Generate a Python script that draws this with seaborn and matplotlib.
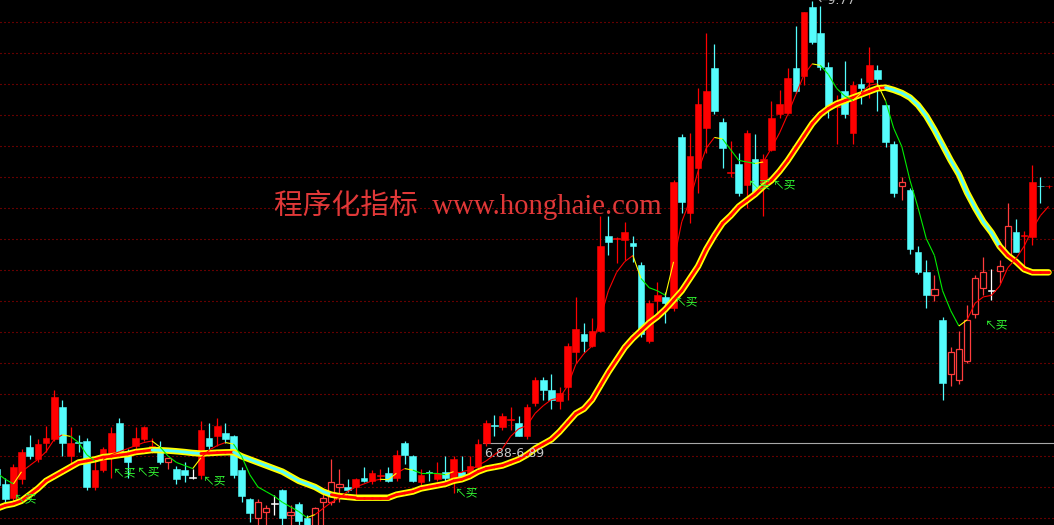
"""
K线 + 均线 + 买点信号 (通达信风格)
"""

import numpy as np
import matplotlib
matplotlib.use("Agg")
import matplotlib.pyplot as plt
from matplotlib.collections import LineCollection
import seaborn as sns

# ── data ────────────────────────────────────────────────────────────────────
IDX = np.arange(-1, 129)

OPEN = [6.72, 6.62, 6.53, 6.65, 6.86, 6.78, 6.89, 6.91, 7.12, 6.80,
        6.89, 6.90, 6.60, 6.71, 6.82, 7.02, 6.82, 6.87, 6.91, 6.86,
        6.83, 6.76, 6.72, 6.71, 6.66, 6.68, 6.92, 6.93, 6.95, 6.93,
        6.71, 6.52, 6.40, 6.44, 6.49, 6.58, 6.42, 6.49, 6.40, 6.33,
        6.50, 6.50, 6.60, 6.60, 6.60, 6.66, 6.64, 6.67, 6.69, 6.66,
        6.89, 6.80, 6.63, 6.69, 6.65, 6.70, 6.66, 6.70, 6.69, 6.73,
        6.89, 7.00, 6.99, 7.04, 7.02, 6.93, 7.15, 7.30, 7.23, 7.16,
        7.25, 7.48, 7.60, 7.52, 7.62, 8.24, 8.22, 8.21, 8.19, 8.05,
        7.55, 7.81, 7.84, 7.77, 8.88, 8.39, 8.68, 8.94, 9.33, 8.98,
        8.65, 8.71, 8.57, 8.74, 8.58, 8.80, 9.03, 9.04, 9.33, 9.28,
        9.73, 9.56, 9.34, 9.08, 9.18, 8.91, 9.23, 9.24, 9.32, 9.09,
        8.84, 8.56, 8.54, 8.13, 8.00, 7.85, 7.69, 7.34, 7.30, 7.42,
        7.73, 7.90, 7.88, 8.01, 8.11, 8.26, 8.24, 8.23, 8.56, 8.56]

HIGH = [6.74, 6.66, 6.75, 6.85, 6.94, 6.91, 7.00, 7.23, 7.17, 6.99,
        6.94, 6.92, 6.78, 6.86, 6.99, 7.05, 6.85, 6.99, 7.00, 6.92,
        6.90, 6.79, 6.74, 6.76, 6.72, 7.03, 7.02, 7.05, 7.02, 6.94,
        6.73, 6.53, 6.52, 6.48, 6.55, 6.59, 6.48, 6.50, 6.42, 6.47,
        6.56, 6.78, 6.72, 6.65, 6.66, 6.73, 6.71, 6.72, 6.73, 6.84,
        6.90, 6.81, 6.72, 6.71, 6.76, 6.80, 6.80, 6.80, 6.80, 6.91,
        7.04, 7.07, 7.08, 7.12, 7.06, 7.14, 7.32, 7.32, 7.34, 7.25,
        7.54, 7.84, 7.67, 7.70, 8.37, 8.37, 8.23, 8.33, 8.24, 8.07,
        7.82, 7.94, 7.87, 8.60, 8.90, 8.91, 9.20, 9.56, 9.49, 9.01,
        8.86, 8.78, 8.93, 8.90, 8.77, 9.12, 9.19, 9.33, 9.61, 9.70,
        9.77, 9.74, 9.37, 9.16, 9.38, 9.25, 9.27, 9.47, 9.35, 9.10,
        8.86, 8.62, 8.55, 8.17, 8.08, 7.98, 7.71, 7.51, 7.62, 7.79,
        7.98, 8.10, 8.02, 8.08, 8.45, 8.35, 8.27, 8.70, 8.62, 8.57]

LOW = [6.59, 6.48, 6.51, 6.62, 6.78, 6.76, 6.83, 6.90, 6.80, 6.74,
       6.83, 6.58, 6.58, 6.70, 6.66, 6.81, 6.66, 6.85, 6.90, 6.82,
       6.75, 6.72, 6.62, 6.63, 6.65, 6.65, 6.84, 6.87, 6.89, 6.66,
       6.50, 6.37, 6.35, 6.35, 6.42, 6.35, 6.35, 6.35, 6.30, 6.30,
       6.35, 6.48, 6.50, 6.57, 6.54, 6.63, 6.62, 6.64, 6.63, 6.64,
       6.75, 6.63, 6.60, 6.64, 6.64, 6.64, 6.56, 6.64, 6.68, 6.71,
       6.87, 6.93, 6.97, 6.97, 6.93, 6.91, 7.13, 7.17, 7.11, 7.11,
       7.17, 7.41, 7.48, 7.51, 7.61, 8.11, 8.06, 8.08, 8.07, 7.58,
       7.54, 7.71, 7.67, 7.75, 8.39, 8.32, 8.52, 8.78, 9.03, 8.68,
       8.62, 8.50, 8.42, 8.50, 8.37, 8.79, 9.01, 9.03, 9.17, 9.22,
       9.49, 9.32, 9.01, 8.84, 9.01, 8.84, 9.10, 9.14, 9.05, 8.82,
       8.49, 8.47, 8.12, 7.99, 7.77, 7.81, 7.17, 7.26, 7.27, 7.41,
       7.70, 7.85, 7.82, 7.93, 8.10, 8.13, 8.04, 8.18, 8.45, 8.55]

CLOSE = [6.61, 6.52, 6.73, 6.83, 6.80, 6.88, 6.92, 7.19, 6.89, 6.89,
         6.89, 6.60, 6.71, 6.85, 6.95, 6.83, 6.76, 6.92, 6.99, 6.86,
         6.76, 6.79, 6.65, 6.68, 6.66, 6.97, 6.87, 7.00, 6.91, 6.68,
         6.54, 6.43, 6.50, 6.46, 6.49, 6.40, 6.44, 6.38, 6.32, 6.46,
         6.53, 6.63, 6.62, 6.58, 6.65, 6.64, 6.69, 6.67, 6.64, 6.81,
         6.81, 6.64, 6.68, 6.69, 6.69, 6.66, 6.78, 6.66, 6.74, 6.88,
         7.02, 7.00, 7.06, 7.04, 6.93, 7.12, 7.30, 7.23, 7.17, 7.21,
         7.52, 7.63, 7.55, 7.62, 8.17, 8.20, 8.22, 8.26, 8.17, 7.60,
         7.80, 7.85, 7.80, 8.59, 8.46, 8.76, 9.10, 9.18, 9.05, 8.81,
         8.65, 8.52, 8.91, 8.52, 8.74, 9.01, 9.10, 9.27, 9.18, 9.70,
         9.50, 9.34, 9.07, 9.08, 9.03, 9.22, 9.20, 9.35, 9.26, 8.85,
         8.52, 8.59, 8.15, 8.00, 7.85, 7.89, 7.28, 7.48, 7.50, 7.69,
         7.96, 8.00, 7.88, 8.04, 8.30, 8.13, 8.24, 8.59, 8.56, 8.56]

# r = 红实体, h = 红空心, c = 青色阴线, w = 十字星
STYLE = ("ccrrcrrrcr" "ccrrrccrrr" "chccwrcrcc" "cchhwchcch" "hhhcrcrrcr"
         "ccrcrcrcrr" "rcrrcrrccr" "rrcrrcrrcc" "rrcrcrrrcc" "rcrcrrrrcr"
         "cccrcrcrcc" "chccchchhh" "hhwhhcrrcr")

# 慢线 (粗线) 和 快线 (细线)
THICK = [6.46, 6.48, 6.49, 6.51, 6.55, 6.59, 6.64, 6.67, 6.70, 6.73,
         6.76, 6.77, 6.78, 6.795, 6.80, 6.808, 6.815, 6.828, 6.834, 6.841,
         6.840, 6.837, 6.833, 6.828, 6.822, 6.818, 6.821, 6.824, 6.826, 6.827,
         6.80, 6.78, 6.76, 6.74, 6.72, 6.70, 6.67, 6.64, 6.62, 6.60,
         6.57, 6.55, 6.54, 6.535, 6.53, 6.53, 6.53, 6.53, 6.53, 6.55,
         6.56, 6.57, 6.59, 6.60, 6.61, 6.62, 6.64, 6.65, 6.67, 6.70,
         6.72, 6.73, 6.74, 6.76, 6.78, 6.81, 6.85, 6.88, 6.91, 6.96,
         7.02, 7.08, 7.11, 7.17, 7.26, 7.35, 7.43, 7.51, 7.57, 7.62,
         7.67, 7.71, 7.76, 7.82, 7.88, 7.96, 8.04, 8.15, 8.24, 8.32,
         8.37, 8.43, 8.47, 8.51, 8.56, 8.60, 8.66, 8.73, 8.81, 8.89,
         8.97, 9.03, 9.07, 9.10, 9.12, 9.14, 9.16, 9.18, 9.20, 9.205,
         9.19, 9.17, 9.14, 9.09, 9.02, 8.93, 8.83, 8.73, 8.64, 8.52,
         8.42, 8.33, 8.26, 8.17, 8.11, 8.07, 8.02, 8.00, 8.00, 8.00]

THICK_DIR = ("uuuuuuuuuu" "uuuuuuuuuu" "dddddduuuu" "dddddddddd" "dduuuuuuuu"
             "uuuuuuuuuu" "uuuuuuuuuu" "uuuuuuuuuu" "uuuuuuuuuu" "uuuuuuuuuu"
             "uuuuuuuuuu" "dddddddddd" "dddduuuuuu")

THIN = [6.69, 6.65, 6.62, 6.70, 6.74, 6.78, 6.83, 6.91, 6.94, 6.93,
        6.89, 6.81, 6.77, 6.78, 6.81, 6.83, 6.85, 6.87, 6.89, 6.90,
        6.86, 6.80, 6.76, 6.74, 6.72, 6.79, 6.84, 6.87, 6.89, 6.88,
        6.80, 6.68, 6.60, 6.57, 6.54, 6.50, 6.47, 6.44, 6.40, 6.42,
        6.46, 6.50, 6.53, 6.57, 6.60, 6.62, 6.64, 6.65, 6.648, 6.69,
        6.72, 6.71, 6.69, 6.69, 6.688, 6.68, 6.70, 6.70, 6.71, 6.74,
        6.77, 6.81, 6.85, 6.93, 6.98, 7.00, 7.08, 7.13, 7.17, 7.18,
        7.26, 7.40, 7.47, 7.52, 7.70, 7.88, 8.00, 8.07, 8.11, 7.96,
        7.90, 7.88, 7.85, 8.07, 8.33, 8.47, 8.66, 8.81, 8.88, 8.87,
        8.80, 8.73, 8.72, 8.71, 8.72, 8.81, 8.91, 9.03, 9.16, 9.29,
        9.36, 9.35, 9.29, 9.20, 9.15, 9.12, 9.17, 9.22, 9.23, 9.12,
        8.94, 8.82, 8.60, 8.42, 8.22, 8.11, 7.88, 7.75, 7.65, 7.69,
        7.80, 7.84, 7.85, 7.91, 8.03, 8.09, 8.17, 8.28, 8.37, 8.43]

# 买点信号: 位置 (K线序号) 和价位
BUY_IDX = [1.07, 13.2, 16.2, 24.2, 39.0, 55.2, 82.2, 91.1, 94.2, 120.2]
BUY_PRICE = [6.52, 6.69, 6.70, 6.64, 6.32, 6.56, 7.81, 8.57, 8.57, 7.66]

CURSOR_PRICE = 6.885
CURSOR_LABEL = "6.88-6.89"
GRID_TOP, GRID_STEP, GRID_N = 9.631, 0.2022, 17

RED, CYAN, HOLLOW, WHITE = "#ff0000", "#54fcfc", "#ff3c3c", "#ffffff"
YELLOW, GREEN = "#ffff00", "#00ee00"
STYLE_COLOR = {"r": RED, "c": CYAN, "h": HOLLOW, "w": WHITE}

sns.set_theme(style="dark", rc={"axes.facecolor": "black", "figure.facecolor": "black"})
plt.rcParams["lines.scale_dashes"] = False
plt.rcParams["font.family"] = ["DejaVu Sans"]


def main():
    x = IDX.astype(float)
    o, h, l, c = map(np.asarray, (OPEN, HIGH, LOW, CLOSE))
    cols = [STYLE_COLOR[s] for s in STYLE]

    fig = plt.figure(figsize=(10.54, 5.25), dpi=100)
    ax = fig.add_axes([0, 0, 1, 1])
    ax.set_xlim(-0.65, 128.67)
    ax.set_ylim(6.352, 9.7765)
    ax.axis("off")

    # 红色点状网格
    for n in range(GRID_N):
        ax.axhline(GRID_TOP - n * GRID_STEP, color="#c80000", lw=0.8,
                   dashes=(0.72, 2.16), zorder=0)

    # 光标价位线
    ax.axhline(CURSOR_PRICE, xmin=483 / 1054, xmax=1, color="#a8a8a8", lw=0.8, zorder=1)
    ax.annotate(CURSOR_LABEL, xy=(483 / 1054, CURSOR_PRICE),
                xycoords=("axes fraction", "data"), xytext=(0.5, -3),
                textcoords="offset points", ha="left", va="top",
                fontsize=9, color="#c8c8c8", zorder=6)

    # K线
    ax.vlines(x, l, h, colors=cols, lw=0.9, zorder=2)
    bottom = np.minimum(o, c)
    height = np.maximum(np.abs(c - o), 0.0065)
    solid = np.array([s != "h" for s in STYLE])
    ax.bar(x[solid], height[solid], bottom=bottom[solid], width=0.82,
           color=np.array(cols)[solid], edgecolor=np.array(cols)[solid],
           linewidth=0.4, zorder=2.2)
    ax.bar(x[~solid], height[~solid], bottom=bottom[~solid], width=0.76,
           facecolor="black", edgecolor=HOLLOW, linewidth=0.9, zorder=2.2)

    # 粗线: 黄边 + 红/青芯
    sns.lineplot(x=x, y=THICK, color=YELLOW, lw=4.6, ax=ax, zorder=3, legend=False)
    t = np.asarray(THICK)
    segs = [[(x[i - 1], t[i - 1]), (x[i], t[i])] for i in range(1, len(x))]
    seg_cols = [RED if THICK_DIR[i] == "u" else CYAN for i in range(1, len(x))]
    ax.add_collection(LineCollection(segs, colors=seg_cols, linewidths=2.0,
                                     capstyle="round", zorder=3.5))

    # 细线: 升红降绿, 拐点黄色
    f = np.asarray(THIN)
    d = np.sign(np.diff(f))
    for i in range(1, len(d)):
        if d[i] == 0:
            d[i] = d[i - 1]
    thin_cols = []
    for i in range(len(d)):
        if i > 0 and d[i] != d[i - 1]:
            thin_cols.append(YELLOW)
        else:
            thin_cols.append(RED if d[i] > 0 else GREEN)
    segs = [[(x[i], f[i]), (x[i + 1], f[i + 1])] for i in range(len(d))]
    ax.add_collection(LineCollection(segs, colors=thin_cols, linewidths=0.8, zorder=4))

    # 买点
    for bx, by in zip(BUY_IDX, BUY_PRICE):
        ax.text(bx, by, "↖买", color="#33ff33", fontsize=8.5, ha="left", va="center",
                family=["Noto Sans CJK SC", "DejaVu Sans"], zorder=5)

    # 最高价标注
    k = int(np.argmax(h))
    ax.text(x[k] + 0.6, h[k], f"←{h[k]:.2f}", color="#c0c0c0", fontsize=9,
            ha="left", va="center", zorder=6)

    # 水印
    ax.text(274 / 1054, 1 - 205 / 525, "程序化指标  www.honghaie.com",
            transform=ax.transAxes, color="#e03838", fontsize=20.7,
            family=["Liberation Serif", "Noto Sans CJK SC"],
            ha="left", va="center", zorder=5)

    fig.savefig("out.png", dpi=100, facecolor="black")
    plt.close(fig)


if __name__ == "__main__":
    main()
